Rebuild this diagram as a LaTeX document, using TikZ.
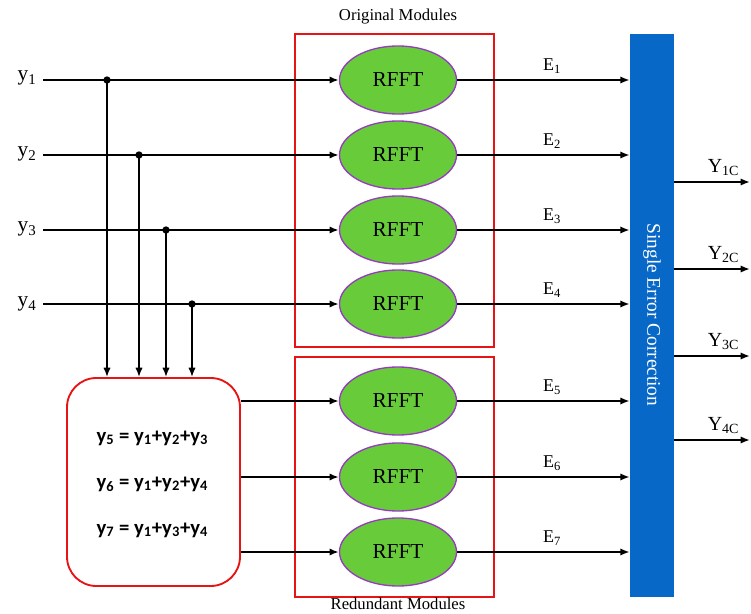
\documentclass[tikz,border=0pt]{standalone}
\usepackage{fontspec}
\setmainfont{Liberation Serif}
\newfontfamily\eqfont{Carlito}
\usetikzlibrary{arrows.meta,shapes.geometric}
\definecolor{rfftgreen}{RGB}{104,204,58}
\definecolor{rfftedge}{RGB}{150,60,190}
\definecolor{secblue}{RGB}{8,104,200}
\definecolor{modred}{RGB}{230,20,20}
\begin{document}
\begin{tikzpicture}[x=0.75pt,y=-0.75pt,
  wire/.style={line width=1.4pt,black},
  sig/.style={wire,-{Latex[length=7pt,width=5.5pt]}},
  rfft/.style={ellipse,draw=rfftedge,line width=1pt,fill=rfftgreen,
    minimum width=87.75pt,minimum height=51pt,inner sep=0pt,font=\fontsize{16}{19}\selectfont},
  modbox/.style={draw=modred,line width=1.6pt},
  dot/.style={circle,fill=black,inner sep=0pt,minimum size=5.5pt},
  inlabel/.style={font=\fontsize{16}{19}\selectfont},
  elabel/.style={font=\fontsize{13.5}{16}\selectfont},
  olabel/.style={font=\fontsize{15}{18}\selectfont},
  eqn/.style={anchor=west,font=\eqfont\bfseries\fontsize{15.5}{18}\selectfont},
  caption/.style={font=\fontsize{12.5}{15}\selectfont}]
\useasboundingbox (0,0) rectangle (751,614);

% module groups
\draw[modbox] (295,34) rectangle (494,347);
\draw[modbox] (295,357) rectangle (494,597);
\node[caption] (capo) at (398,17) {Original Modules};
\node[caption] (capr) at (398,604) {Redundant Modules};

% RFFT blocks
\node[rfft] (r1) at (398,80) {RFFT};
\node[rfft] (r2) at (398,155) {RFFT};
\node[rfft] (r3) at (398,230) {RFFT};
\node[rfft] (r4) at (398,304) {RFFT};
\node[rfft] (r5) at (398,401) {RFFT};
\node[rfft] (r6) at (398,477) {RFFT};
\node[rfft] (r7) at (398,552) {RFFT};

% error-correction bar
\node[fill=secblue,minimum width=33pt,minimum height=422.25pt,inner sep=0pt] (sec) at (652,315.5) {};
\node[rotate=-90,text=white,font=\fontsize{14.5}{17}\selectfont] (sect) at (652,315) {Single Error Correction};

% parity block
\node[draw=modred,line width=1.4pt,rounded corners=22pt,minimum width=129.75pt,
  minimum height=156pt,inner sep=0pt] (par) at (153.5,482) {};
\node[eqn] (q5) at (92,438) {y\textsubscript{5} = y\textsubscript{1}+y\textsubscript{2}+y\textsubscript{3}};
\node[eqn] (q6) at (92,484) {y\textsubscript{6} = y\textsubscript{1}+y\textsubscript{2}+y\textsubscript{4}};
\node[eqn] (q7) at (92,530) {y\textsubscript{7} = y\textsubscript{1}+y\textsubscript{3}+y\textsubscript{4}};

% inputs
\node[inlabel] (l1) at (27,78) {y\textsubscript{1}};
\node[inlabel] (l2) at (27,154) {y\textsubscript{2}};
\node[inlabel] (l3) at (27,229) {y\textsubscript{3}};
\node[inlabel] (l4) at (27,304) {y\textsubscript{4}};
\coordinate (s1) at (43,80);
\coordinate (s2) at (43,155);
\coordinate (s3) at (43,230);
\coordinate (s4) at (43,304);
\draw[sig] (s1) -- (r1);
\draw[sig] (s2) -- (r2);
\draw[sig] (s3) -- (r3);
\draw[sig] (s4) -- (r4);

% taps into the parity block
\node[dot] (j1) at (107,80) {};
\node[dot] (j2) at (139,155) {};
\node[dot] (j3) at (166,230) {};
\node[dot] (j4) at (192,304) {};
\draw[sig,line width=1.2pt] (j1.center) -- (j1 |- par.north);
\draw[sig,line width=1.2pt] (j2.center) -- (j2 |- par.north);
\draw[sig,line width=1.2pt] (j3.center) -- (j3 |- par.north);
\draw[sig,line width=1.2pt] (j4.center) -- (j4 |- par.north);

% parity outputs into redundant modules
\draw[sig] (par.east |- r5) -- (r5);
\draw[sig] (par.east |- r6) -- (r6);
\draw[sig] (par.east |- r7) -- (r7);

% module outputs to the correction block
\draw[sig] (r1.east) -- (sec.west |- r1.east) node[elabel,pos=0.55,above=1pt] (e1) {E\textsubscript{1}};
\draw[sig] (r2.east) -- (sec.west |- r2.east) node[elabel,pos=0.55,above=1pt] (e2) {E\textsubscript{2}};
\draw[sig] (r3.east) -- (sec.west |- r3.east) node[elabel,pos=0.55,above=1pt] (e3) {E\textsubscript{3}};
\draw[sig] (r4.east) -- (sec.west |- r4.east) node[elabel,pos=0.55,above=1pt] (e4) {E\textsubscript{4}};
\draw[sig] (r5.east) -- (sec.west |- r5.east) node[elabel,pos=0.55,above=1pt] (e5) {E\textsubscript{5}};
\draw[sig] (r6.east) -- (sec.west |- r6.east) node[elabel,pos=0.55,above=1pt] (e6) {E\textsubscript{6}};
\draw[sig] (r7.east) -- (sec.west |- r7.east) node[elabel,pos=0.55,above=1pt] (e7) {E\textsubscript{7}};

% corrected outputs
\coordinate (o1) at (750,182);
\coordinate (o2) at (750,269);
\coordinate (o3) at (750,356);
\coordinate (o4) at (750,440);
\draw[sig] (sec.east |- o1) -- (o1) node[olabel,pos=0.65,above=1pt] (y1c) {Y\textsubscript{1C}};
\draw[sig] (sec.east |- o2) -- (o2) node[olabel,pos=0.65,above=1pt] (y2c) {Y\textsubscript{2C}};
\draw[sig] (sec.east |- o3) -- (o3) node[olabel,pos=0.65,above=1pt] (y3c) {Y\textsubscript{3C}};
\draw[sig] (sec.east |- o4) -- (o4) node[olabel,pos=0.65,above=1pt] (y4c) {Y\textsubscript{4C}};
\end{tikzpicture}
\end{document}
